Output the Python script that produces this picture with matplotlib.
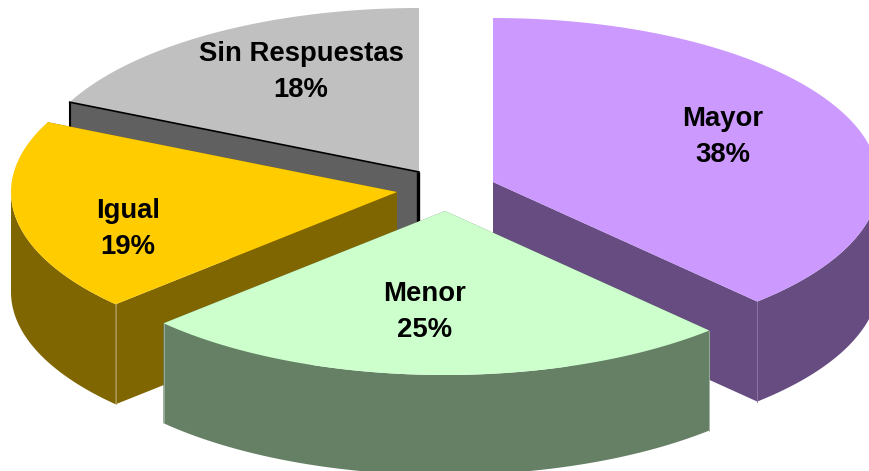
import matplotlib.pyplot as plt
import numpy as np

plt.rcParams['font.family'] = ['Liberation Sans', 'DejaVu Sans']

# Data, clockwise from 12 o'clock
categories = ['Mayor', 'Menor', 'Igual', 'Sin Respuestas']
values = [38, 25, 19, 18]

# Styles for each slice
top_colors = ['#CC99FF', '#CCFFCC', '#FFCC00', '#C0C0C0']
wall_colors = ['#664C80', '#668066', '#806600', '#606060']
edge_colors = ['#8A76A0', '#A0B4A0', '#B0A060', '#606060']

# Apex of each exploded slice, in pixels
apex = [(493, 182), (445, 211), (397, 192), (419, 172)]
label_pos = [(723, 137), (425, 312), (128, 229), (301, 72)]
draw_order = [3, 2, 0, 1]

RX, RY = 386, 164
DEPTH = 100

fig = plt.figure(figsize=(8.7, 4.71), dpi=100)
ax = fig.add_axes([0, 0, 1, 1])
ax.set_xlim(0, 870)
ax.set_ylim(471, 0)
ax.axis('off')

# Slice angles in radians, clockwise from the top
shares = np.array(values) / sum(values) * 2 * np.pi
ends = np.cumsum(shares)
starts = ends - shares


def rim(cx, cy, a, b):
    t = np.linspace(a, b, 200)
    return cx + RX * np.sin(t), cy - RY * np.cos(t)


def draw_slice(i, z):
    cx, cy = apex[i]
    xs, ys = rim(cx, cy, starts[i], ends[i])
    wall = wall_colors[i]

    # Radial walls, the top face covers whatever faces backwards
    for px, py in [(xs[0], ys[0]), (xs[-1], ys[-1])]:
        ax.fill([cx, px, px, cx], [cy, py, py + DEPTH, cy + DEPTH], color=wall, lw=0, zorder=z)

    # Outer wall, only the front half of the rim shows
    a = max(starts[i], np.pi / 2)
    b = min(ends[i], 3 * np.pi / 2)
    if a < b:
        fx, fy = rim(cx, cy, a, b)
        ax.fill(np.r_[fx, fx[::-1]], np.r_[fy, fy[::-1] + DEPTH], color=wall, lw=0, zorder=z)

    # Thin lighter line on the outer corners that face the viewer
    for ang in [starts[i], ends[i]]:
        if np.cos(ang) < 0:
            px, py = rim(cx, cy, ang, ang)
            ax.plot([px[0], px[0]], [py[0], py[0] + DEPTH], color=edge_colors[i], lw=0.6, zorder=z + 0.1)

    ax.fill(np.r_[cx, xs], np.r_[cy, ys], color=top_colors[i], lw=0, zorder=z + 0.2)


# Back to front
for z, i in enumerate(draw_order):
    draw_slice(i, z + 1)

# The grey slice has a black outline on its cut face
cx, cy = apex[3]
xs, ys = rim(cx, cy, starts[3], ends[3])
ax.plot([xs[0], xs[0]], [ys[0], ys[0] + DEPTH], color='black', lw=1.5, zorder=1.5, solid_capstyle='butt')
ax.plot([xs[0], cx], [ys[0], cy], color='black', lw=1.2, zorder=1.5)
ax.plot([cx - 1, cx - 1], [cy, cy + DEPTH], color='black', lw=2.4, zorder=1.5, solid_capstyle='butt')

for name, val, (x, y) in zip(categories, values, label_pos):
    ax.text(x, y, f'{name}\n{val}%', ha='center', va='center', fontsize=19.8,
            fontweight='bold', color='black', linespacing=1.48, zorder=10)

plt.savefig('out.png', dpi=100)
